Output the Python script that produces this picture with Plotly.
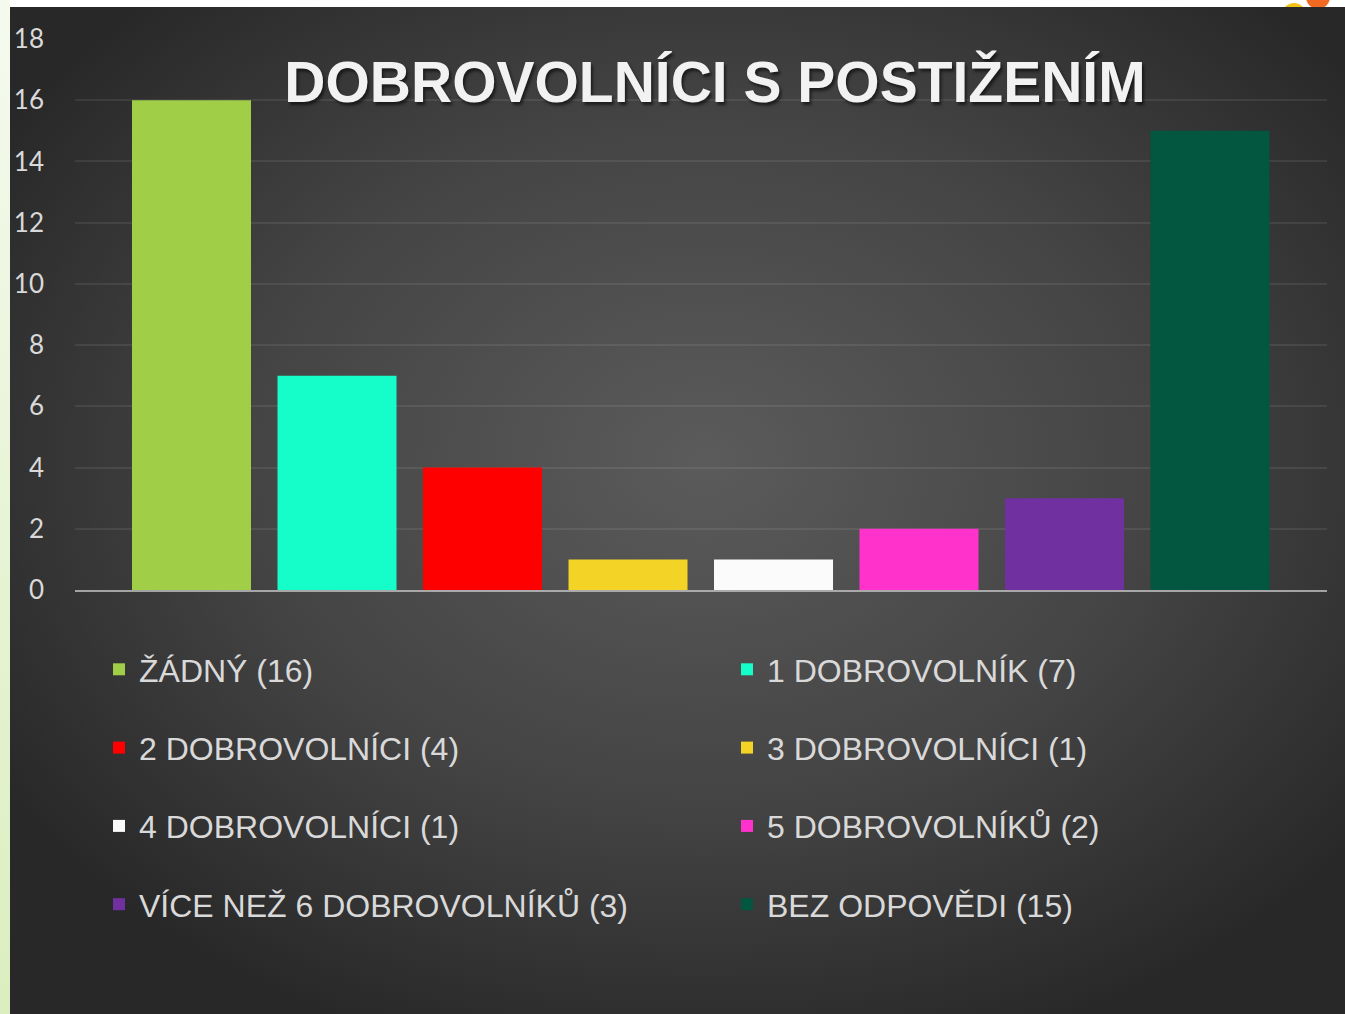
import base64
import plotly.graph_objects as go

categories = ["ŽÁDNÝ", "1 DOBROVOLNÍK", "2 DOBROVOLNÍCI", "3 DOBROVOLNÍCI",
              "4 DOBROVOLNÍCI", "5 DOBROVOLNÍKŮ", "VÍCE NEŽ 6 DOBROVOLNÍKŮ", "BEZ ODPOVĚDI"]
values = [16, 7, 4, 1, 1, 2, 3, 15]
colors = ["#a0cf47", "#15fec9", "#ff0000", "#f2d326", "#fbfbfb", "#ff33cc", "#7030a0", "#03563f"]
y_ticks = [0, 2, 4, 6, 8, 10, 12, 14, 16, 18]
title_text = "DOBROVOLNÍCI S POSTIŽENÍM"

W, H = 1345, 1014
ML, MR, MT, MB = 75, 18, 39, 424
PW, PH = W - ML - MR, H - MT - MB

svg = f'''<svg xmlns="http://www.w3.org/2000/svg" width="{W}" height="{H}" viewBox="0 0 {W} {H}">
<defs>
<radialGradient id="bg" cx="0.52" cy="0.45" r="0.62" fx="0.52" fy="0.45">
<stop offset="0" stop-color="#5b5b5b"/>
<stop offset="0.55" stop-color="#444444"/>
<stop offset="1" stop-color="#282828"/>
</radialGradient>
<linearGradient id="side" x1="0" y1="0" x2="0" y2="1">
<stop offset="0" stop-color="#f5faef"/>
<stop offset="1" stop-color="#dbeebf"/>
</linearGradient>
</defs>
<rect x="0" y="0" width="{W}" height="{H}" fill="#ffffff"/>
<rect x="0" y="0" width="10" height="{H}" fill="url(#side)"/>
<circle cx="1294" cy="15" r="12" fill="#f2c418"/>
<circle cx="1318" cy="-3" r="12" fill="#f26a22"/>
<rect x="10" y="7" width="{W-10}" height="{H-7}" fill="url(#bg)"/>
</svg>'''
svg_uri = "data:image/svg+xml;base64," + base64.b64encode(svg.encode("utf-8")).decode("ascii")

fig = go.Figure()
for i, (cat, val, col) in enumerate(zip(categories, values, colors)):
    fig.add_trace(go.Bar(
        x=[cat], y=[val],
        name=f"{cat} ({val})",
        marker=dict(color=col, line=dict(width=0)),
        legend="legend" if i % 2 == 0 else "legend2",
        legendgroup=f"g{i}",
        hoverinfo="skip",
    ))

legend_common = dict(
    bgcolor="rgba(0,0,0,0)",
    font=dict(family="Liberation Sans, Arial, sans-serif", size=32, color="#d9d9d9"),
    orientation="v",
    yanchor="top",
    xanchor="left",
    tracegroupgap=33.7,
    itemclick=False,
    itemdoubleclick=False,
)

fig.update_layout(
    width=W, height=H,
    margin=dict(l=ML, r=MR, t=MT, b=MB, autoexpand=False),
    paper_bgcolor="#2b2b2b",
    plot_bgcolor="rgba(0,0,0,0)",
    barmode="overlay",
    bargap=0.182,
    title=dict(
        text=title_text,
        x=(715 - ML) / PW, xref="paper", xanchor="center",
        y=1 - 82 / H, yref="container", yanchor="middle",
        font=dict(family="Liberation Sans, Arial, sans-serif", size=57, color="#f2f2f2",
                  weight="bold", shadow="2px 3px 3px rgba(0,0,0,0.55)"),
    ),
    xaxis=dict(
        type="category",
        categoryorder="array", categoryarray=categories,
        range=[-0.8007, 7.804],
        showticklabels=False, ticks="",
        showgrid=False, zeroline=False,
        showline=True, linecolor="rgba(200,200,200,0.75)", linewidth=2,
        layer="above traces",
        fixedrange=True,
    ),
    yaxis=dict(
        range=[0, 18],
        tickvals=y_ticks,
        ticktext=[str(t) for t in y_ticks],
        tickfont=dict(family="Lato, Open Sans, sans-serif", size=26, color="#d9d9d9"),
        ticks="",
        ticklabelstandoff=30,
        showgrid=True, gridcolor="rgba(255,255,255,0.08)", gridwidth=2,
        zeroline=False, showline=False,
        fixedrange=True,
    ),
    legend=dict(x=(99 - ML) / PW, y=(590 - 642) / PH, **legend_common),
    legend2=dict(x=(727 - ML) / PW, y=(590 - 642) / PH, **legend_common),
    showlegend=True,
    images=[dict(
        source=svg_uri, xref="paper", yref="paper",
        x=-ML / PW, y=1 + MT / PH, sizex=W / PW, sizey=H / PH,
        xanchor="left", yanchor="top", sizing="stretch", layer="below",
    )],
)

fig.write_html("out.html", config={"displayModeBar": False},
               post_script="document.body.style.margin='0';")
